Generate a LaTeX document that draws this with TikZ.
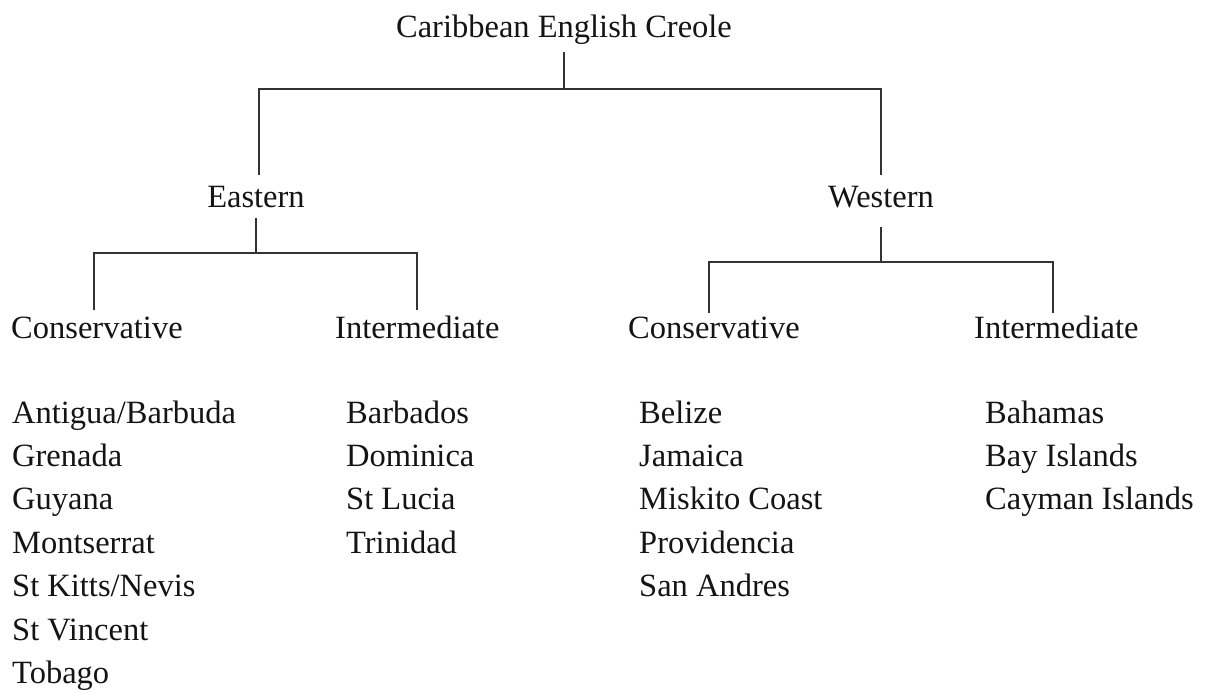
\documentclass[tikz,border=0pt]{standalone}
\usepackage{fontspec}
\setmainfont{Liberation Serif}
\definecolor{ink}{HTML}{141414}
\definecolor{linec}{HTML}{333333}
\begin{document}
\begin{tikzpicture}[x=1pt,y=-1pt,
  lbl/.style={inner sep=0pt, font=\fontsize{32.5}{43.4}\selectfont, text=ink},
  conn/.style={line width=1.6pt, draw=linec}]
\useasboundingbox (0,0) rectangle (1205,693);
% headers
\node[lbl,anchor=base] (r) at (564,38) {Caribbean English Creole};
\node[lbl,anchor=base] (e) at (256,207) {Eastern};
\node[lbl,anchor=base] (w) at (881,207) {Western};
\node[lbl,anchor=base west] (ec) at (11,338) {Conservative};
\node[lbl,anchor=base west] (ei) at (335,338) {Intermediate};
\node[lbl,anchor=base west] (wc) at (628,338) {Conservative};
\node[lbl,anchor=base west] (wi) at (974,338) {Intermediate};
% junctions
\coordinate (j0) at (564,89);
\coordinate (eT) at (259,175);
\coordinate (wT) at (881,175);
\coordinate (j1) at (256,253);
\coordinate (ecT) at (94,310);
\coordinate (eiT) at (417,310);
\coordinate (j2) at (881,262);
\coordinate (wcT) at (709,313);
\coordinate (wiT) at (1053,313);
% connectors
\draw[conn] ([yshift=-7pt]r.south) -- (j0);
\draw[conn] (eT) |- (j0) -| (wT);
\draw[conn] ([yshift=-10pt]e.south) -- (j1);
\draw[conn] (ecT) |- (j1) -| (eiT);
\draw[conn] ([yshift=-19pt]w.south) -- (j2);
\draw[conn] (wcT) |- (j2) -| (wiT);
% lists
\node[lbl,anchor=base west] (a1) at (12,423) {Antigua/Barbuda};
\node[lbl,anchor=base west] (a2) at (12,466.4) {Grenada};
\node[lbl,anchor=base west] (a3) at (12,509.8) {Guyana};
\node[lbl,anchor=base west] (a4) at (12,553.2) {Montserrat};
\node[lbl,anchor=base west] (a5) at (12,596.6) {St Kitts/Nevis};
\node[lbl,anchor=base west] (a6) at (12,640) {St Vincent};
\node[lbl,anchor=base west] (a7) at (12,683.4) {Tobago};
\node[lbl,anchor=base west] (b1) at (346,423) {Barbados};
\node[lbl,anchor=base west] (b2) at (346,466.4) {Dominica};
\node[lbl,anchor=base west] (b3) at (346,509.8) {St Lucia};
\node[lbl,anchor=base west] (b4) at (346,553.2) {Trinidad};
\node[lbl,anchor=base west] (c1) at (639,423) {Belize};
\node[lbl,anchor=base west] (c2) at (639,466.4) {Jamaica};
\node[lbl,anchor=base west] (c3) at (639,509.8) {Miskito Coast};
\node[lbl,anchor=base west] (c4) at (639,553.2) {Providencia};
\node[lbl,anchor=base west] (c5) at (639,596.6) {San Andres};
\node[lbl,anchor=base west] (d1) at (985,423) {Bahamas};
\node[lbl,anchor=base west] (d2) at (985,466.4) {Bay Islands};
\node[lbl,anchor=base west] (d3) at (985,509.8) {Cayman Islands};
\end{tikzpicture}
\end{document}
